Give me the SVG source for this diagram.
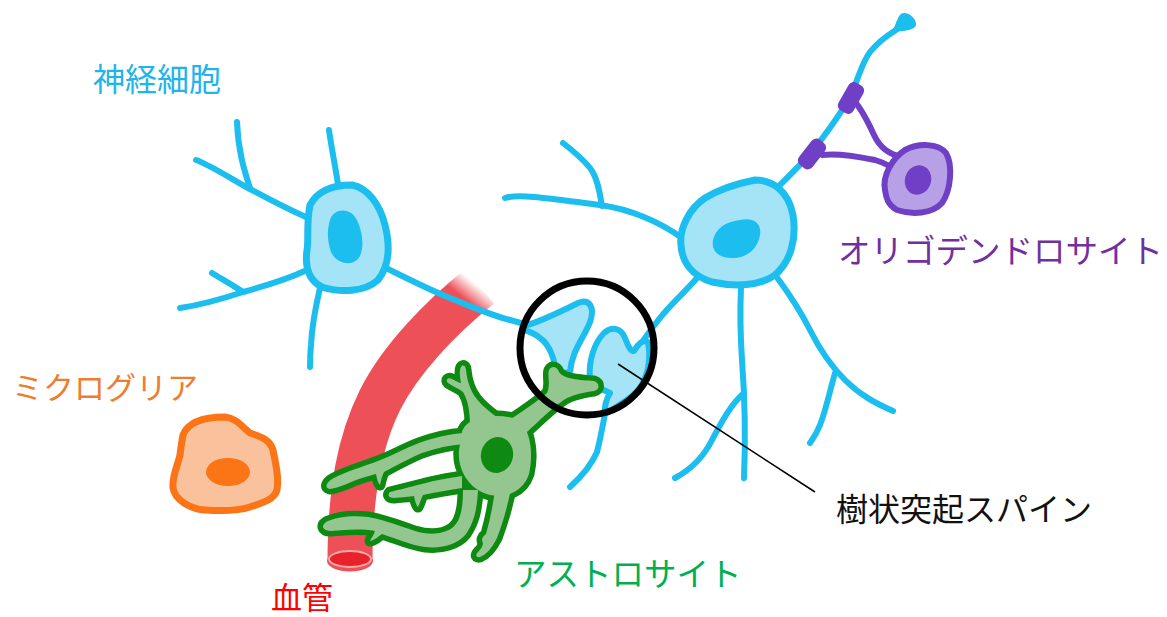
<svg xmlns="http://www.w3.org/2000/svg" xmlns:xlink="http://www.w3.org/1999/xlink" width="1167" height="617" viewBox="0 0 1167 617">
  <style>
    .dend { fill: none; stroke: #1CBEF0; stroke-width: 6; stroke-linecap: round; stroke-linejoin: round; }
    .soma { fill: #A5E3F6; stroke: #1CBEF0; stroke-width: 7; stroke-linejoin: round; }
    .nuc { fill: #1CBEF0; }
    .spine { fill: #A5E3F6; stroke: #1CBEF0; stroke-width: 6; stroke-linejoin: round; }
    .astro-outline { fill: #0E8A12; stroke: #0E8A12; stroke-width: 11; stroke-linejoin: round; }
    .astro-fill { fill: #94C78F; stroke: none; }
    .oligo-line { fill: none; stroke: #6F3FC5; stroke-width: 6; stroke-linecap: round; }
    .label { font-family: "Noto Sans CJK JP", "Noto Sans", sans-serif; font-size: 32px; }
  </style>
  <defs>
    <linearGradient id="vesselFade" gradientUnits="userSpaceOnUse" x1="480" y1="287" x2="468" y2="302">
      <stop offset="0" stop-color="#EE5058" stop-opacity="0"/>
      <stop offset="1" stop-color="#EE5058" stop-opacity="1"/>
    </linearGradient>
    <!-- astrocyte silhouette: drawn twice, once widened for the outline -->
    <g id="astro-shape">
      <path d="M462,432 C466,418 490,413 514,418 C530,424 534,452 529,474 C523,492 506,498 490,495 C470,491 457,470 459,450 Z"/>
      <path d="M470,425 C470,412 468,400 463,392 C458,388 452,386 448,383 C445,380 448,377 452,379 C456,381 459,383 461,383 C460,377 459,371 461,367 C463,364 466,366 466,370 C467,380 470,390 476,398 C482,406 490,412 498,418 Z"/>
      <path d="M508,421 C522,412 536,402 547,393 C551,385 547,375 549,370 C552,365 557,367 559,372 C563,379 580,380 594,381 C600,383 600,390 594,391 C580,393 568,396 561,402 C550,410 540,420 527,432 Z"/>
      <path d="M464,433 C450,434 432,438 419,443 C405,448 392,456 378,461 C362,467 345,472 334,478 C326,482 324,488 330,489 C340,488 352,481 362,478 C368,476 372,475 376,474 C377,479 378,483 380,485 C381,480 382,476 384,472 C395,466 410,458 422,453 C436,448 450,445 464,444 Z"/>
      <path d="M462,476 C450,478 436,480 422,484 C410,487 398,490 390,492 C387,495 389,498 394,498 C402,497 410,497 414,496 C415,501 416,505 418,507 C420,503 421,499 423,495 C435,492 450,490 462,488 Z"/>
      <path d="M463,490 C463,510 460,522 452,528 C442,535 428,535 415,531 C400,526 385,520 368,517 C352,515 338,517 328,521 C320,525 322,531 331,531 C345,530 360,528 375,531 C374,535 371,538 370,541 C375,540 379,536 382,534 C395,538 410,545 425,547 C442,549 458,544 466,534 C474,522 477,510 478,490 Z"/>
      <path d="M511,488 C508,505 503,522 497,538 C492,548 487,554 480,557 C476,558 475,555 478,552 C481,549 483,546 483,543 C481,540 482,537 486,534 C490,520 493,505 495,490 Z"/>
    </g>
  </defs>

  <rect width="1167" height="617" fill="#FFFFFF"/>

  <!-- blood vessel -->
  <g id="blood-vessel">
    <path d="M480,286 C440,318 400,360 380,400 C360,440 350,490 350,561" fill="none" stroke="url(#vesselFade)" stroke-width="45"/>
    <ellipse cx="350" cy="561" rx="23" ry="10.5" fill="#EE5058"/>
    <ellipse cx="350" cy="559" rx="21" ry="8" fill="#E8222B" stroke="#F5A8A8" stroke-width="2"/>
  </g>

  <!-- neuron (left) -->
  <g id="neuron-left">
    <path class="dend" d="M308,218 C285,208 265,197 248,188 C230,178 210,165 196,160"/>
    <path class="dend" d="M250,188 C244,170 238,150 237,122"/>
    <path class="dend" d="M338,184 C335,165 331,145 329,130"/>
    <path class="dend" d="M307,270 C290,278 265,286 243,292 C225,298 200,305 180,308"/>
    <path class="dend" d="M243,292 C233,285 220,278 212,273"/>
    <path class="dend" d="M320,288 C316,305 312,325 311,345 C310,355 310,362 310,367"/>
    <path class="dend" d="M386,268 C410,280 430,290 450,298 C470,306 490,315 510,320 C518,322 524,324 530,326"/>
    <path class="soma" d="M310,205 C318,190 335,185 352,185 C368,188 380,205 385,225 C390,245 390,265 378,280 C365,292 340,293 322,287 C308,280 305,265 307,250 C309,240 306,225 310,205 Z"/>
    <path class="nuc" d="M330,220 C334,208 350,207 357,220 C363,233 365,250 358,259 C350,267 336,263 331,252 C327,240 327,230 330,220 Z"/>
  </g>

  <!-- neuron (right) -->
  <g id="neuron-right">
    <path class="dend" d="M505,198 C520,193 560,200 600,205 C630,209 660,222 682,238"/>
    <path class="dend" d="M602,206 C600,195 598,178 590,168 C582,158 572,150 563,143"/>
    <path class="dend" d="M778,187 C790,175 805,160 812,152 C825,135 840,115 850,97 C858,80 862,62 870,52 C878,42 888,35 896,30"/>
    <path d="M892,32 C897,22 898,14 903,13 C909,12 917,19 916,25 C915,30 905,31 892,32 Z" fill="#1CBEF0"/>
    <path class="dend" d="M697,278 C685,292 670,305 660,318 C652,328 647,335 643,341"/>
    <path class="dend" d="M741,287 C740,310 740,330 742,360 C745,400 746,430 744,478"/>
    <path class="dend" d="M744,393 C730,405 720,425 712,440 C703,458 690,470 675,478"/>
    <path class="dend" d="M776,276 C790,295 800,310 810,330 C820,350 830,365 845,380 C860,395 875,403 893,411"/>
    <path class="dend" d="M835,373 C830,390 826,410 820,425 C816,435 812,440 810,443"/>
    <path class="dend" d="M606,408 C603,425 600,440 597,452 C590,468 580,478 570,487"/>
    <path class="soma" d="M681,245 C679,228 690,208 705,198 C718,190 735,184 755,180 C772,180 788,190 793,215 C797,240 790,262 775,275 C760,286 735,287 712,282 C692,276 682,262 681,245 Z"/>
    <path class="nuc" d="M713,240 C716,228 725,222 740,220 C752,217 762,222 760,235 C758,248 748,257 735,258 C720,259 711,252 713,240 Z"/>
  </g>

  <!-- synapse: presynaptic terminal and dendritic spine -->
  <g id="spines">
    <path class="spine" d="M524,326 C540,322 560,312 578,303 C590,298 595,308 590,322 C584,338 572,350 570,372 L556,374 C555,360 550,345 540,338 C534,333 528,331 524,330 Z"/>
    <path class="spine" d="M590,380 C588,360 595,342 604,333 C612,326 621,328 625,338 C628,346 631,352 634,351 C638,344 643,339 648,342 C651,358 648,375 640,388 C632,398 620,404 612,410 L605,414 C604,405 607,398 610,393 C603,390 595,386 590,380 Z"/>
  </g>

  <!-- astrocyte -->
  <g id="astrocyte">
    <use xlink:href="#astro-shape" class="astro-outline"/>
    <use xlink:href="#astro-shape" class="astro-fill"/>
    <ellipse cx="497" cy="455" rx="16" ry="18" transform="rotate(15 497 455)" fill="#0E8A12"/>
  </g>

  <!-- microglia -->
  <g id="microglia">
    <path d="M183,435 C188,422 205,417 225,417 C237,418 243,428 250,433 C262,437 270,440 273,450 C276,465 279,478 277,490 C274,500 262,503 250,507 C238,511 220,511 205,510 C190,509 175,500 173,488 C172,475 178,465 180,455 C181,447 182,440 183,435 Z" fill="#F9C29D" stroke="#FB7415" stroke-width="7" stroke-linejoin="round"/>
    <ellipse cx="228" cy="472" rx="22" ry="14" fill="#FB7415"/>
  </g>

  <!-- oligodendrocyte with myelin segments -->
  <g id="oligodendrocyte">
    <path class="oligo-line" d="M822,155 C840,153 860,157 875,160 C885,163 893,168 897,172"/>
    <path class="oligo-line" d="M855,102 C862,110 868,122 874,135 C880,148 890,155 903,157"/>
    <rect x="-8.5" y="-16" width="17" height="32" rx="6" transform="translate(812,154) rotate(38)" fill="#6F3FC5"/>
    <rect x="-8.5" y="-16" width="17" height="32" rx="6" transform="translate(851,98) rotate(30)" fill="#6F3FC5"/>
    <path d="M885,190 C882,175 893,158 905,150 C918,143 938,143 946,153 C953,165 951,190 942,203 C932,214 912,215 897,210 C888,205 886,198 885,190 Z" fill="#B8A0E6" stroke="#6F3FC5" stroke-width="6"/>
    <ellipse cx="918" cy="180" rx="13" ry="15" transform="rotate(20 918 180)" fill="#6F3FC5"/>
  </g>

  <!-- highlight circle and leader -->
  <g id="connectors">
    <circle cx="587" cy="348" r="67" fill="none" stroke="#000000" stroke-width="7"/>
    <line x1="618" y1="364" x2="815" y2="492" stroke="#000000" stroke-width="1.5"/>
  </g>

  <!-- labels -->
  <g id="labels" class="label">
    <text x="93" y="91" fill="#1FB4EA">神経細胞</text>
    <text x="12" y="399" fill="#ED7D31" font-size="31">ミクログリア</text>
    <text x="271" y="609" fill="#FF0000" font-size="31">血管</text>
    <text x="514" y="586" fill="#00B050" font-size="32.5">アストロサイト</text>
    <text x="838" y="263" fill="#7030A0" font-size="32.5">オリゴデンドロサイト</text>
    <text x="836" y="521" fill="#111111">樹状突起スパイン</text>
  </g>
</svg>
